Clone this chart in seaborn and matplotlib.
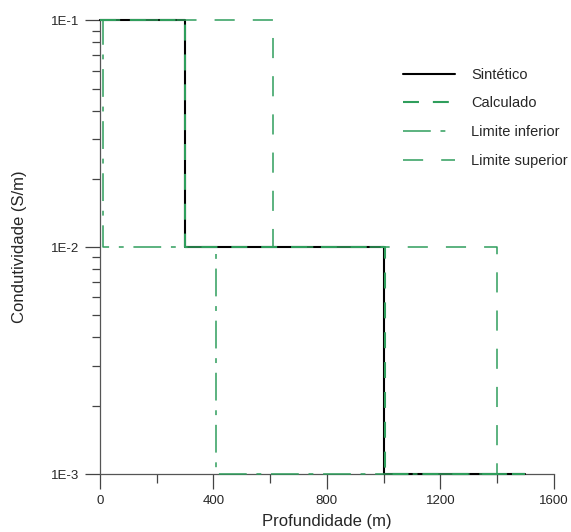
import matplotlib
matplotlib.use("Agg")
import matplotlib.pyplot as plt
from matplotlib.ticker import FixedLocator, MultipleLocator, LogLocator, NullFormatter, FixedFormatter
import seaborn as sns
import pandas as pd

# ---- data ----
sint_depth = [0, 300, 1000, 1500]
sint_cond = [0.1, 0.01, 0.001, 0.001]

calc_depth = [0, 300, 1006, 1500]
calc_cond = [0.1, 0.01, 0.001, 0.001]

inf_depth = [0, 10, 410, 1500]
inf_cond = [0.1, 0.01, 0.001, 0.001]

sup_depth = [0, 610, 1400, 1500]
sup_cond = [0.1, 0.01, 0.001, 0.001]

labels = ["Sintético", "Calculado", "Limite inferior", "Limite superior"]
y_ticks = [0.001, 0.01, 0.1]
y_ticklabels = ["1E-3", "1E-2", "1E-1"]
x_ticks = [0, 400, 800, 1200, 1600]

sns.set_style("white")
plt.rcParams["font.family"] = ["Liberation Sans", "DejaVu Sans"]
plt.rcParams["lines.scale_dashes"] = False

fig = plt.figure(figsize=(5.71, 5.32), dpi=100)
ax = fig.add_axes([0.175, 0.109, 0.795, 0.853])

green = "#2f9e5c"

series = [
    (sint_depth, sint_cond, dict(color="black", linewidth=1.5, linestyle="-")),
    (calc_depth, calc_cond, dict(color=green, linewidth=1.5, linestyle=(0, (11.5, 10)))),
    (inf_depth, inf_cond, dict(color=green, linewidth=1.1, linestyle=(0, (20, 7, 3.5, 7)))),
    (sup_depth, sup_cond, dict(color=green, linewidth=1.1, linestyle=(0, (14.5, 13)))),
]

for (d, c, st), lab in zip(series, labels):
    df = pd.DataFrame({"d": d, "c": c})
    sns.lineplot(data=df, x="d", y="c", ax=ax, drawstyle="steps-post",
                 estimator=None, sort=False, label=lab, zorder=3, clip_on=False, **st)

ax.set_yscale("log")
ax.set_xlim(0, 1600)
ax.set_ylim(0.001, 0.1)

ax.yaxis.set_major_locator(FixedLocator(y_ticks))
ax.yaxis.set_major_formatter(FixedFormatter(y_ticklabels))
ax.yaxis.set_minor_locator(LogLocator(base=10, subs=range(2, 10)))
ax.yaxis.set_minor_formatter(NullFormatter())
ax.xaxis.set_major_locator(FixedLocator(x_ticks))
ax.xaxis.set_minor_locator(MultipleLocator(200))

for s in ["top", "right"]:
    ax.spines[s].set_visible(False)
for s in ["left", "bottom"]:
    ax.spines[s].set_color("#555555")
    ax.spines[s].set_linewidth(0.9)

ax.tick_params(axis="both", which="major", direction="out", length=11, width=0.9,
               color="#444444", labelsize=9.5, pad=4, left=True, bottom=True)
ax.tick_params(axis="y", which="minor", direction="out", length=6, width=0.9,
               color="#444444", left=True)
ax.tick_params(axis="x", which="minor", direction="out", length=6.5, width=0.9,
               color="#444444", bottom=True)

ax.set_xlabel("Profundidade (m)", fontsize=12, labelpad=5)
ax.set_ylabel("Condutividade (S/m)", fontsize=12, labelpad=17)
ax.grid(False)

leg = ax.legend(loc="upper left", bbox_to_anchor=(0.667, 0.895), frameon=False,
                fontsize=10.5, handlelength=3.6, handletextpad=1.1,
                labelspacing=1.0, borderpad=0, borderaxespad=0)

fig.savefig("out.png", dpi=100)
